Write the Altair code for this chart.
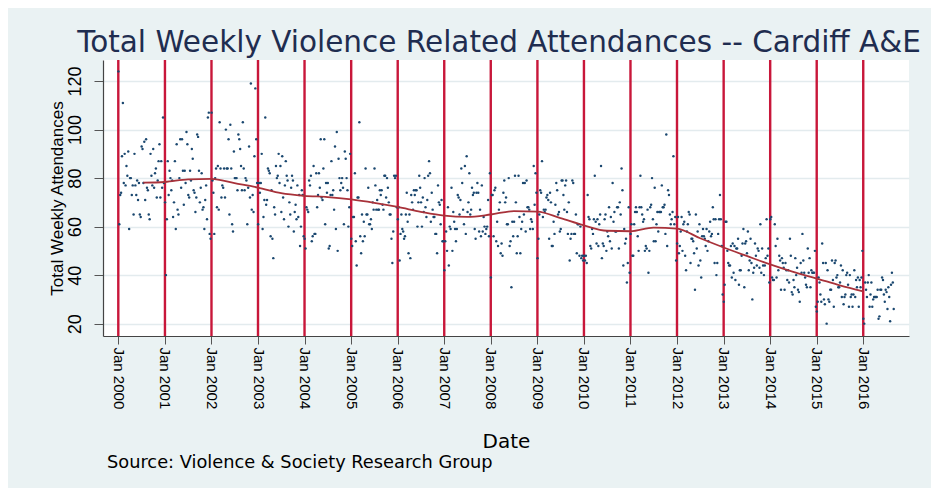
import altair as alt
import pandas as pd

# Weekly violence-related attendances (one list per year)
y2000 = [124, 61, 73, 74, 89, 111, 78, 90, 77, 85, 81, 91, 59, 80, 80, 73, 77, 65, 90, 77, 73, 79, 71, 78, 65, 64,
         93, 92, 78, 95, 71, 96, 76, 75, 65, 63, 90, 81, 77, 92, 76, 82, 84, 72, 79, 87, 94, 72, 87, 76, 105, 78]
y2001 = [70, 40, 63, 87, 73, 83, 80, 75, 79, 64, 70, 87, 59, 94, 67, 65, 80, 96, 76, 96, 83, 69, 83, 78, 99, 94,
         73, 72, 83, 79, 92, 88, 75, 74, 66, 72, 98, 97, 83, 70, 76, 82, 67, 68, 59, 71, 77, 63, 105, 107, 57, 55]
y2002 = [107, 79, 74, 57, 80, 84, 68, 85, 67, 103, 84, 72, 77, 76, 84, 72, 100, 84, 84, 96, 65, 102, 84, 61, 58, 91,
         80, 80, 80, 75, 98, 96, 92, 85, 75, 103, 84, 75, 80, 79, 61, 76, 93, 72, 119, 67, 73, 66, 89, 117, 96, 78]
y2003 = [61, 78, 74, 78, 90, 59, 64, 71, 105, 69, 71, 84, 83, 82, 56, 75, 55, 47, 68, 65, 85, 80, 81, 90, 78, 85,
         66, 89, 72, 63, 77, 87, 81, 79, 60, 70, 65, 76, 81, 79, 58, 66, 69, 63, 77, 64, 73, 52, 60, 75, 73, 56]
y2004 = [55, 51, 68, 67, 66, 79, 77, 81, 54, 56, 85, 57, 57, 82, 68, 73, 82, 76, 96, 72, 71, 84, 96, 61, 78, 74,
         78, 51, 52, 73, 87, 73, 75, 67, 93, 59, 99, 50, 88, 80, 75, 78, 80, 76, 61, 91, 88, 80, 75, 60, 68, 90]
y2005 = [55, 52, 64, 64, 82, 54, 44, 72, 72, 103, 56, 49, 65, 54, 62, 56, 84, 65, 65, 76, 61, 61, 63, 59, 70, 67,
         84, 77, 67, 71, 67, 67, 75, 73, 75, 69, 67, 81, 81, 72, 80, 76, 70, 65, 65, 55, 45, 58, 81, 80, 81, 68]
y2006 = [63, 68, 46, 57, 65, 59, 58, 55, 56, 65, 74, 62, 49, 65, 47, 73, 70, 67, 75, 73, 75, 75, 60, 70, 81, 76,
         70, 60, 72, 66, 80, 68, 64, 71, 81, 87, 82, 62, 74, 67, 64, 64, 57, 57, 49, 77, 70, 69, 61, 71, 54, 54]
y2007 = [42, 54, 58, 50, 68, 44, 60, 59, 76, 50, 66, 62, 59, 54, 59, 73, 72, 65, 71, 84, 78, 67, 61, 85, 57, 89,
         66, 70, 82, 65, 67, 76, 73, 74, 59, 55, 74, 78, 74, 58, 67, 56, 77, 58, 64, 60, 57, 59, 60, 71, 56, 82]
y2008 = [39, 73, 73, 56, 75, 76, 54, 62, 52, 67, 70, 49, 53, 48, 74, 79, 70, 72, 61, 61, 80, 52, 54, 35, 62, 56,
         62, 81, 70, 49, 56, 81, 64, 49, 59, 62, 78, 65, 78, 58, 79, 68, 68, 67, 59, 63, 62, 59, 85, 69, 82, 74]
y2009 = [47, 55, 65, 75, 74, 87, 64, 67, 66, 67, 72, 73, 71, 55, 74, 70, 52, 52, 62, 57, 69, 78, 75, 65, 66, 58,
         59, 79, 79, 73, 67, 77, 79, 66, 57, 70, 46, 55, 57, 79, 78, 57, 57, 65, 49, 61, 61, 48, 60, 47, 48, 46]
y2010 = [48, 46, 48, 45, 73, 64, 63, 52, 51, 59, 57, 63, 81, 62, 53, 63, 52, 61, 65, 85, 47, 53, 52, 63, 65, 50,
         58, 56, 68, 54, 64, 51, 78, 62, 66, 58, 58, 68, 68, 51, 70, 65, 84, 75, 44, 59, 53, 55, 37, 45, 68, 41]
y2011 = [57, 61, 48, 48, 61, 66, 68, 66, 56, 50, 68, 81, 68, 65, 62, 63, 50, 52, 51, 67, 41, 50, 68, 69, 80, 63,
         54, 76, 54, 61, 66, 58, 66, 66, 66, 77, 68, 68, 69, 57, 98, 52, 75, 73, 65, 61, 63, 66, 89, 61, 64, 46]
y2012 = [53, 64, 49, 52, 58, 64, 50, 61, 62, 48, 42, 58, 61, 66, 65, 45, 55, 55, 54, 49, 34, 65, 51, 58, 44, 61,
         46, 39, 56, 59, 56, 55, 52, 59, 50, 54, 58, 62, 56, 57, 68, 63, 45, 63, 40, 45, 57, 63, 73, 63, 52, 32]
y2013 = [29, 36, 62, 62, 50, 45, 44, 44, 52, 39, 53, 41, 52, 38, 51, 51, 55, 36, 42, 42, 48, 53, 59, 35, 53, 54,
         49, 58, 42, 46, 55, 45, 30, 41, 43, 53, 48, 44, 51, 50, 43, 61, 41, 51, 44, 40, 44, 47, 63, 48, 51, 37]
y2014 = [63, 64, 39, 38, 38, 61, 52, 39, 55, 42, 48, 46, 34, 47, 45, 43, 34, 45, 42, 38, 42, 37, 55, 48, 33, 32,
         38, 35, 47, 40, 43, 34, 33, 29, 45, 41, 57, 46, 41, 39, 36, 35, 51, 41, 47, 35, 42, 41, 41, 41, 50, 27]
y2015 = [25, 29, 39, 37, 32, 29, 53, 45, 30, 28, 45, 20, 42, 30, 29, 34, 34, 46, 38, 27, 45, 46, 39, 40, 35, 35,
         37, 44, 31, 42, 28, 31, 32, 40, 41, 36, 27, 40, 31, 32, 27, 32, 42, 31, 38, 35, 39, 27, 38, 35, 39, 50]
y2016 = [22, 20, 37, 34, 31, 37, 40, 27, 32, 37, 27, 30, 31, 31, 31, 31, 34, 22, 23, 34, 34, 39, 38, 32, 29, 34,
         33, 26, 35, 31, 21, 36, 41, 37, 26]

# Smoothed trend
trend_dates = ["2000-07-15", "2001-01-01", "2001-07-01", "2002-01-01", "2002-07-01", "2003-01-01", "2003-07-01",
               "2004-01-01", "2004-07-01", "2005-01-01", "2005-07-01", "2006-01-01", "2006-07-01", "2007-01-01",
               "2007-07-01", "2008-01-01", "2008-07-01", "2009-01-01", "2009-07-01", "2010-01-01", "2010-07-01",
               "2011-01-01", "2011-07-01", "2012-01-01", "2012-07-01", "2013-01-01", "2013-07-01", "2014-01-01",
               "2014-07-01", "2015-01-01", "2015-07-01", "2016-01-01"]
trend_vals = [78.1, 78.4, 79.5, 79.7, 77.9, 76.1, 73.8, 72.7, 72.2, 71.2, 69.8, 68.1, 66.1, 64.5, 64.0, 65.0,
              66.4, 66.2, 63.5, 60.5, 58.3, 58.1, 59.6, 59.2, 55.2, 51.4, 47.9, 44.4, 41.3, 38.6, 35.8, 33.3]

jan_years = list(range(2000, 2017))
y_ticks = [20, 40, 60, 80, 100, 120]

weekly = {2000: y2000, 2001: y2001, 2002: y2002, 2003: y2003, 2004: y2004, 2005: y2005, 2006: y2006,
          2007: y2007, 2008: y2008, 2009: y2009, 2010: y2010, 2011: y2011, 2012: y2012, 2013: y2013,
          2014: y2014, 2015: y2015, 2016: y2016}
rows = []
for yr, vals in weekly.items():
    start = pd.Timestamp(f"{yr}-01-02")
    for i, v in enumerate(vals):
        rows.append({"date": start + pd.Timedelta(days=7 * i), "att": v})
pts = pd.DataFrame(rows)
trend = pd.DataFrame({"date": pd.to_datetime(trend_dates), "att": trend_vals})
jan = pd.DataFrame({"date": pd.to_datetime([f"{y}-01-01" for y in jan_years])})

xscale = alt.Scale(domain=[alt.DateTime(year=1999, month=9, date=3),
                           alt.DateTime(year=2016, month=12, date=25)])
yscale = alt.Scale(domain=[14.9, 128.7], nice=False, zero=False)

ARIAL = "Liberation Sans, Arial, sans-serif"
WIDE = "DejaVu Sans, Verdana, sans-serif"

xaxis = alt.Axis(values=[alt.DateTime(year=y, month=1, date=1) for y in jan_years], format="%b %Y",
                 labelAngle=90, labelFont=ARIAL, labelFontSize=15, labelColor="#000000",
                 labelPadding=3, labelFlush=False, labelOverlap=False,
                 tickSize=8, tickColor="#555555", domainColor="#444444", domainWidth=1.2, grid=False,
                 title="Date", titleFont=WIDE, titleFontSize=20, titleFontWeight="normal",
                 titleColor="#000000", titleX=403, titleY=111, titleAlign="center",
                 titleBaseline="alphabetic")
yaxis = alt.Axis(values=y_ticks, labelAngle=270, labelAlign="center", labelBaseline="bottom",
                 labelFont=ARIAL, labelFontSize=18, labelColor="#000000", labelPadding=10,
                 tickSize=9, tickColor="#555555", domainColor="#444444", domainWidth=1.2,
                 grid=True, gridColor="#E3EBEE", gridWidth=1.5,
                 title="Total Weekly Attendances", titleFont=ARIAL, titleFontSize=17,
                 titleFontWeight="normal", titleColor="#000000", titleAngle=270, titleX=-46, titleY=138,
                 titleAlign="center", titleBaseline="middle")

base_axes = alt.Chart(pts).mark_point(opacity=0).encode(
    x=alt.X("date:T", scale=xscale, axis=xaxis),
    y=alt.Y("att:Q", scale=yscale, axis=yaxis),
)

rules = alt.Chart(jan).mark_rule(color="#C8173A", strokeWidth=2.4).encode(
    x=alt.X("date:T", scale=xscale)
)

dots = alt.Chart(pts).mark_circle(size=6, color="#1A476F", opacity=1).encode(
    x=alt.X("date:T", scale=xscale),
    y=alt.Y("att:Q", scale=yscale),
)

line = alt.Chart(trend).mark_line(color="#A8323A", strokeWidth=1.8, interpolate="monotone").encode(
    x=alt.X("date:T", scale=xscale),
    y=alt.Y("att:Q", scale=yscale),
)

title = alt.Chart(pd.DataFrame({"t": ["Total Weekly Violence Related Attendances -- Cardiff A&E"]})).mark_text(
    font=WIDE, fontSize=29.5, color="#1F2D50", align="center", baseline="alphabetic"
).encode(text="t:N", x=alt.value(396), y=alt.value(-8))

source = alt.Chart(pd.DataFrame({"t": ["Source: Violence & Society Research Group"]})).mark_text(
    font=WIDE, fontSize=17.8, color="#000000", align="left", baseline="alphabetic"
).encode(text="t:N", x=alt.value(4), y=alt.value(408))

chart = alt.layer(base_axes, rules, dots, line, title, source).properties(
    width=806, height=276,
    autosize=alt.AutoSizeParams(type="none"),
    padding={"left": 95, "top": 52, "right": 22, "bottom": 152},
    background="#EAF2F3",
).configure_view(fill="white", strokeWidth=0)

chart.save("out.html", embed_options={"renderer": "svg", "actions": False})
